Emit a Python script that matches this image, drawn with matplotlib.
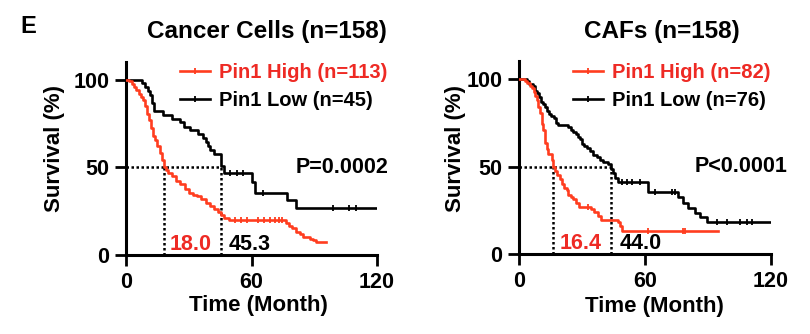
import numpy as np
import matplotlib.pyplot as plt

plt.rcParams['font.family'] = ['Liberation Sans', 'DejaVu Sans']
plt.rcParams['font.weight'] = 'bold'

RED_LINE = '#FF3D1F'
RED_TEXT = '#EE2A24'

# ---- Cancer Cells panel (months, % survival) ----
cc_high_t = [0, 1.5, 3, 4, 5, 6, 7, 8, 9, 10, 11, 12, 13, 14, 15, 16, 17, 18, 19, 20, 22, 24, 26, 28,
             30, 32, 34, 36, 38, 40, 42, 44, 45.5, 47, 49, 76.6, 78, 79.5, 81.4, 83, 84.6, 88, 89.3, 91, 95.5]
cc_high_s = [100, 99.1, 97.3, 95.6, 93.8, 92, 90.3, 88.5, 85, 80.5, 77, 72.5, 68, 65.5, 62, 58.4, 54, 50,
             48.7, 47, 45, 42.5, 40.7, 38, 35.4, 34.5, 33.6, 32, 30, 28, 26.5, 24.8, 23, 21.2, 20.2, 18.3,
             16.5, 15.4, 13.5, 12, 10.6, 9.5, 8.7, 7.8, 7.8]
cc_high_cens = [52, 55, 58, 63, 66, 69, 71, 73, 74.5]

cc_low_t = [0, 7.5, 9, 10.5, 11.5, 12.5, 13.5, 17.9, 21.9, 25.9, 27.5, 30.6, 34.6, 37, 38.3, 39, 40, 42,
            45.3, 47, 60, 61.5, 77, 81.4, 120]
cc_low_s = [100, 97.8, 95.6, 93.3, 91.1, 86.7, 82.2, 80, 77.8, 75.6, 73.3, 71.1, 68.9, 66.7, 64.4, 62.2,
            60, 57.8, 51.1, 46.7, 42, 35.4, 31.6, 26.9, 26.9]
cc_low_cens = [49.8, 53, 55.8, 65.5, 98.8, 106.8, 110]

# ---- CAFs panel ----
caf_high_t = [0, 2.9, 4, 5.2, 6, 7, 7.6, 8.5, 9.3, 10, 10.8, 11.2, 11.6, 12.2, 12.6, 13.2, 14, 15.6, 16.4,
              17.2, 18, 19.5, 20.5, 21.5, 22.7, 23.5, 25, 25.9, 27, 28.5, 34.5, 36, 37.8, 39.3, 47.3, 48.1,
              48.9, 95]
caf_high_s = [100, 98.8, 97.6, 96.3, 95.1, 92.7, 90.2, 87.8, 84.1, 80.5, 76.8, 74.4, 70.7, 67, 63.4, 59.8,
              57.3, 53.7, 50, 47.6, 45.1, 42.7, 40.2, 37.8, 36.6, 34.1, 32.9, 31.7, 29.3, 26.8, 25.6, 24.4,
              22, 19.5, 18.3, 15.9, 13.4, 13.4]
caf_high_cens = [33, 61.6, 78.3, 79.1]

caf_low_t = [0, 3.7, 5, 6.5, 7.5, 8.5, 9.5, 10.5, 11.5, 12.5, 13.5, 14.5, 15.5, 16.5, 17.5, 18.5, 23.5, 25,
             26, 27, 28, 29, 30, 31, 32.5, 34, 35.5, 37, 38.5, 40, 42.6, 44, 45, 46, 47.4, 61.6, 76, 78.4,
             80.8, 83.9, 86.3, 89.5, 120]
caf_low_s = [100, 98.7, 97.4, 96, 93.4, 92.1, 89.5, 86.8, 85.5, 84.2, 81.6, 80.3, 78.9, 77.6, 75, 73.7,
             72.4, 71, 69.7, 68.4, 67.1, 65.8, 63.2, 61.8, 60.5, 59.2, 56.6, 55.3, 54, 52.6, 51.3, 48.7,
             46.1, 43.4, 41.4, 35.7, 32.9, 29.1, 26.2, 23.4, 21.5, 18.6, 18.6]
caf_low_cens = [49, 51.3, 53.7, 57.7, 64.8, 72.8, 74.4, 94.3, 99, 105.4, 108.6, 110.9]

panels = [
    dict(title='Cancer Cells (n=158)', high=(cc_high_t, cc_high_s, cc_high_cens),
         low=(cc_low_t, cc_low_s, cc_low_cens), med=(18.0, 45.3), p='P=0.0002', p_x=125.3,
         labels=('Pin1 High (n=113)', 'Pin1 Low (n=45)'),
         rect=[0.1556, 0.2356, 0.3099, 0.5787], title_x=0.329, ylab=(-0.283, 0.552), xlab=(0.526, -0.258)),
    dict(title='CAFs (n=158)', high=(caf_high_t, caf_high_s, caf_high_cens),
         low=(caf_low_t, caf_low_s, caf_low_cens), med=(16.4, 44.0), p='P<0.0001', p_x=128.0,
         labels=('Pin1 High (n=82)', 'Pin1 Low (n=76)'),
         rect=[0.6407, 0.2386, 0.3107, 0.5773], title_x=0.817, ylab=(-0.254, 0.549), xlab=(0.540, -0.273)),
]


def draw_km(ax, t, s, cens, color):
    t = np.asarray(t, float)
    s = np.asarray(s, float)
    ax.step(t, s, where='post', color=color, lw=1.9, zorder=3)
    cens = np.asarray(cens, float)
    cy = s[np.searchsorted(t, cens, side='right') - 1]
    ax.plot(cens, cy, ls='none', marker='|', ms=5, mew=1.3, color=color, zorder=3)


fig = plt.figure(figsize=(8.1, 3.34), dpi=100)
fig.text(0.025, 0.92, 'E', fontsize=17, fontweight='bold', va='center')

for pan in panels:
    ax = fig.add_axes(pan['rect'])
    draw_km(ax, *pan['low'], 'black')
    draw_km(ax, *pan['high'], RED_LINE)

    m_high, m_low = pan['med']
    ax.plot([0, m_low], [50, 50], color='black', ls=(0, (1, 1)), lw=1.8, zorder=2)
    ax.plot([m_high, m_high], [0, 50], color='black', ls=(0, (1, 1)), lw=1.8, zorder=2)
    ax.plot([m_low, m_low], [0, 50], color='black', ls=(0, (1, 1)), lw=1.8, zorder=2)
    ax.text(m_high + 2.9, 3, f'{m_high:.1f}', color=RED_TEXT, fontsize=15.5, fontweight='bold')
    ax.text(m_low + 3.8, 3, f'{m_low:.1f}', color='black', fontsize=15.5, fontweight='bold')
    ax.text(pan['p_x'], 50, pan['p'], ha='right', va='center', fontsize=15.5, fontweight='bold')

    h_high = plt.Line2D([], [], color=RED_LINE, lw=1.9, marker='|', ms=5, mew=1.3)
    h_low = plt.Line2D([], [], color='black', lw=1.9, marker='|', ms=5, mew=1.3)
    leg = ax.legend([h_high, h_low], pan['labels'], loc='upper left', bbox_to_anchor=(0.183, 1.035),
                    frameon=False, fontsize=14.5, handlelength=1.5, handletextpad=0.45,
                    labelspacing=0.45, numpoints=1, borderaxespad=0)
    leg.get_texts()[0].set_color(RED_TEXT)
    for txt in leg.get_texts():
        txt.set_fontweight('bold')

    ax.set_xlim(0, 120)
    ax.set_ylim(0, 110)
    ax.set_xticks([0, 60, 120])
    ax.set_yticks([0, 50, 100])
    for side in ['top', 'right']:
        ax.spines[side].set_visible(False)
    for side in ['left', 'bottom']:
        ax.spines[side].set_linewidth(2.2)
    ax.tick_params(length=8, width=2.0, labelsize=15.5, pad=4)
    for lab in ax.get_xticklabels() + ax.get_yticklabels():
        lab.set_fontweight('bold')

    ax.set_xlabel('Time (Month)', fontsize=16, fontweight='bold')
    ax.set_ylabel('Survival (%)', fontsize=16, fontweight='bold')
    ax.xaxis.set_label_coords(*pan['xlab'])
    ax.yaxis.set_label_coords(*pan['ylab'])
    ax.xaxis.label.set_va('center')
    ax.yaxis.label.set_va('center')

    fig.text(pan['title_x'], 0.907, pan['title'], ha='center', va='center', fontsize=17.5,
             fontweight='bold')

fig.savefig('out.png', dpi=100)
